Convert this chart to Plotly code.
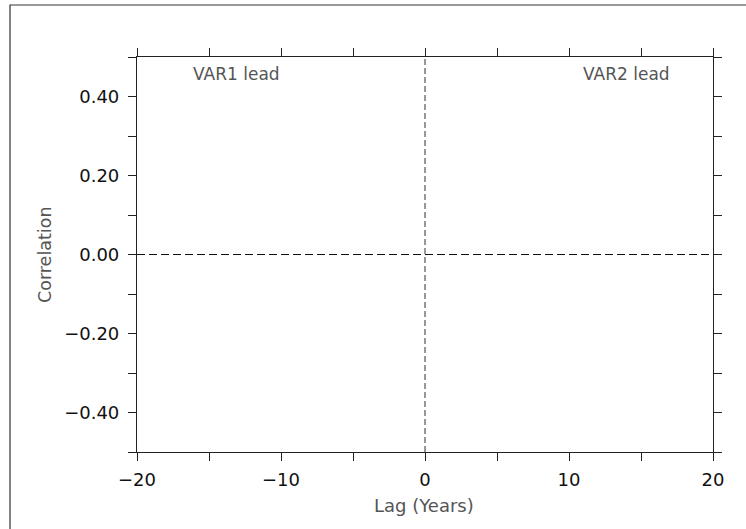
import plotly.graph_objects as go

# ---- data ----
x_range = [-20, 20]
y_range = [-0.5, 0.5]
x_tickvals = [-20, -15, -10, -5, 0, 5, 10, 15, 20]
x_ticktext = ["\u221220", "", "\u221210", "", "0", "", "10", "", "20"]
y_tickvals = [-0.5, -0.4, -0.3, -0.2, -0.1, 0.0, 0.1, 0.2, 0.3, 0.4, 0.5]
y_ticktext = ["", "\u22120.40", "", "\u22120.20", "", "0.00", "", "0.20", "", "0.40", ""]
zero_line_x = [-20, 20]
zero_line_y = [0, 0]
lag0_x = [0, 0]
lag0_y = [-0.5, 0.5]
lead_labels = ["VAR1 lead", "VAR2 lead"]
lead_x = [-13.1, 14.0]
lead_y = [0.456, 0.456]
x_title = "Lag (Years)"
y_title = "Correlation"

W, H = 746, 529
L, R, T, B = 137, 33, 57, 77
pw, ph = W - L - R, H - T - B

fig = go.Figure()
fig.add_trace(go.Scatter(x=lag0_x, y=lag0_y, mode="lines",
                         line=dict(color="#777777", width=1.5, dash="6px,3px"),
                         hoverinfo="skip", showlegend=False))
fig.add_trace(go.Scatter(x=zero_line_x, y=zero_line_y, mode="lines",
                         line=dict(color="#111111", width=1.2, dash="8px,4px"),
                         hoverinfo="skip", showlegend=False))

title_font = dict(family="DejaVu Sans", color="#555555")

for t, xv, yv in zip(lead_labels, lead_x, lead_y):
    fig.add_annotation(x=xv, y=yv, xref="x", yref="y", text=t, showarrow=False,
                       xanchor="center", yanchor="middle",
                       font=dict(size=17, **title_font))

fig.add_annotation(x=(45 - L) / pw, y=(H - B - 255) / ph, xref="paper", yref="paper",
                   text=y_title, textangle=-90, showarrow=False,
                   xanchor="center", yanchor="middle",
                   font=dict(size=17.5, **title_font))
fig.add_annotation(x=(424 - L) / pw, y=(H - B - 505) / ph, xref="paper", yref="paper",
                   text=x_title, showarrow=False, xanchor="center", yanchor="middle",
                   font=dict(size=18, **title_font))

# outer frame
fig.add_shape(type="rect", xref="paper", yref="paper",
              x0=(10 - L) / pw, x1=(W + 5 - L) / pw,
              y0=(H - B - (H + 5)) / ph, y1=(H - B - 5) / ph,
              line=dict(color="#333333", width=1.2), fillcolor="rgba(0,0,0,0)")

axis_common = dict(showgrid=False, zeroline=False, showline=True, linecolor="#222222",
                   linewidth=1.2, mirror="ticks", ticks="outside", ticklen=8,
                   tickwidth=1.2, tickcolor="#222222",
                   tickfont=dict(family="DejaVu Sans", size=18, color="#111111"))

fig.update_xaxes(range=x_range, tickmode="array", tickvals=x_tickvals,
                 ticktext=x_ticktext, ticklabelstandoff=3, **axis_common)
fig.update_yaxes(range=y_range, tickmode="array", tickvals=y_tickvals,
                 ticktext=y_ticktext, ticklabelstandoff=5, **axis_common)

fig.update_layout(width=W, height=H, margin=dict(l=L, r=R, t=T, b=B, autoexpand=False),
                  paper_bgcolor="white", plot_bgcolor="white", showlegend=False)

fig.write_html("out.html")
